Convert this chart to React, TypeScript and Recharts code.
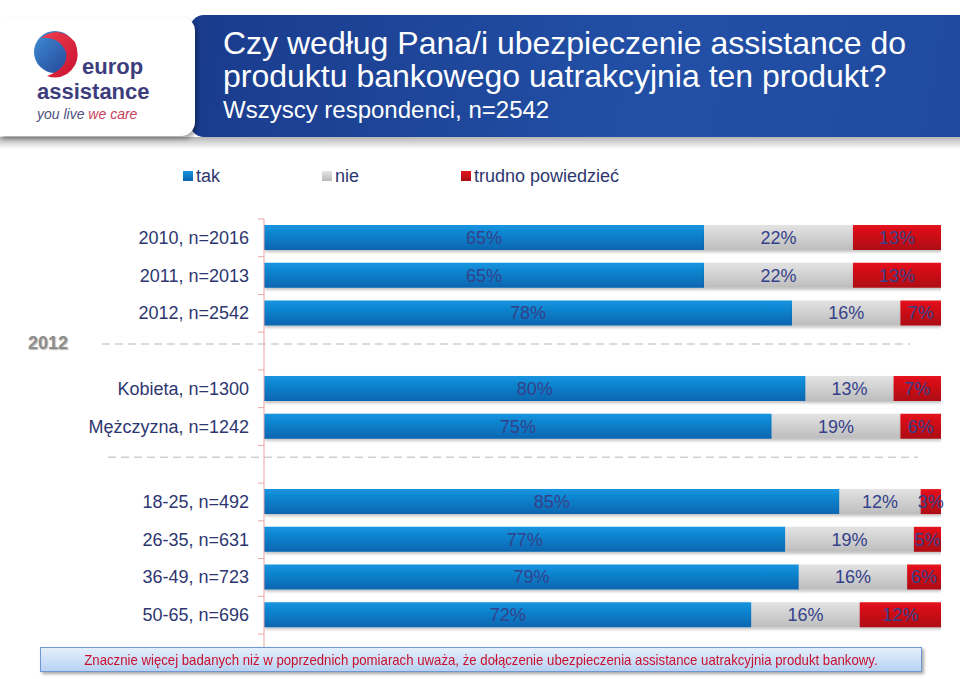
import React from 'react';
import { BarChart, Bar, XAxis, YAxis, LabelList, ReferenceLine } from 'recharts';

const FONT = '"Liberation Sans", Arial, Helvetica, sans-serif';
const NAVY = '#2d3670';

// null = empty spacer row between groups
const categories: (string | null)[] = [
  '2010, n=2016',
  '2011, n=2013',
  '2012, n=2542',
  null,
  'Kobieta, n=1300',
  'Mężczyzna, n=1242',
  null,
  '18-25, n=492',
  '26-35, n=631',
  '36-49, n=723',
  '50-65, n=696'
];
const tak = [65, 65, 78, null, 80, 75, null, 85, 77, 79, 72];
const nie = [22, 22, 16, null, 13, 19, null, 12, 19, 16, 16];
const trudno = [13, 13, 7, null, 7, 6, null, 3, 5, 6, 12];
const seriesNames = ['tak', 'nie', 'trudno powiedzieć'];

const data = categories.map((label, i) => ({
  id: `row${i}`,
  label: label ?? '',
  tak: tak[i],
  nie: nie[i],
  trudno: trudno[i]
}));
const labelById: Record<string, string> = {};
data.forEach(d => (labelById[d.id] = d.label));

const AXIS_X = 264;
const AXIS_COLOR = '#e9a5a5';
const lastId = data[data.length - 1].id;

const RowTick = (props: any) => {
  const { y, payload } = props;
  const half = payload.offset || 18.9;
  return (
    <g>
      <text x={AXIS_X - 15} y={y} dy={6} textAnchor="end" fill={NAVY} fontSize={18} fontFamily={FONT}>
        {labelById[payload.value]}
      </text>
      <line x1={AXIS_X - 6} x2={AXIS_X} y1={y - half} y2={y - half} stroke={AXIS_COLOR} />
      {payload.value === lastId && (
        <g>
          <line x1={AXIS_X - 6} x2={AXIS_X} y1={y + half} y2={y + half} stroke={AXIS_COLOR} />
          <line x1={AXIS_X} x2={AXIS_X} y1={y + half} y2={y + half + 14} stroke={AXIS_COLOR} />
        </g>
      )}
    </g>
  );
};

const separator = (from: number, to: number, tag?: string) => (p: any) => (
  <g>
    <line x1={from} x2={to} y1={p.y1 - 7} y2={p.y1 - 7} stroke="#cfcfcf" strokeWidth={1.5} strokeDasharray="8 5" />
    {tag && (
      <text x={28} y={p.y1 - 2} fill="#8d8d8d" fontSize={18} fontWeight="bold" fontFamily={FONT}
        style={{ textShadow: '1px 1px 1px #bbb' }}>
        {tag}
      </text>
    )}
  </g>
);

const pct = (v: any) => (v == null ? '' : `${v}%`);

const labelStyle = { fill: '#34418a', fontSize: 18, fontFamily: FONT };

const Logo = () => (
  <svg width={150} height={110} viewBox="0 0 150 110">
    <defs>
      <linearGradient id="swBlue" x1="0" y1="0" x2="1" y2="1">
        <stop offset="0%" stopColor="#3f8fd6" />
        <stop offset="100%" stopColor="#233f93" />
      </linearGradient>
      <linearGradient id="swRed" x1="0" y1="0" x2="1" y2="1">
        <stop offset="0%" stopColor="#f0404f" />
        <stop offset="100%" stopColor="#c8102e" />
      </linearGradient>
    </defs>
    <circle cx={22} cy={24} r={21} fill="url(#swBlue)" />
    <path d="M8 10 Q26 -4 42 14 Q50 34 34 46 Q24 52 14 48 Q36 40 33 24 Q26 8 8 10 Z" fill="url(#swRed)" />
    <text x={49} y={46} fontSize={22} fontWeight="bold" fill="#3c3d7c" fontFamily={FONT}>europ</text>
    <text x={4} y={71} fontSize={22} fontWeight="bold" fill="#3c3d7c" fontFamily={FONT}>assistance</text>
    <text x={4} y={91} fontSize={14} fontStyle="italic" fill="#4d4f80" fontFamily={FONT}>
      you live <tspan fill="#c9415a">we care</tspan>
    </text>
  </svg>
);

const legendColors = ['linear-gradient(#1a95e0, #0a63ad)', 'linear-gradient(#e6e6e6, #b8b8b8)', 'linear-gradient(#e3141d, #a90c14)'];
const legendX = [183, 322, 461];

export default function App() {
  return (
    <div style={{ position: 'absolute', left: 0, top: 0, width: 960, height: 679, background: '#fff', fontFamily: FONT, overflow: 'hidden' }}>
      <BarChart
        width={960}
        height={679}
        data={data}
        layout="vertical"
        margin={{ top: 219, right: 19, bottom: 45, left: 0 }}
        barSize={25}
        style={{ position: 'absolute', left: 0, top: 0 }}
      >
        <defs>
          <linearGradient id="gBlue" x1="0" y1="0" x2="0" y2="1">
            <stop offset="0%" stopColor="#1495e0" />
            <stop offset="100%" stopColor="#0865b0" />
          </linearGradient>
          <linearGradient id="gGray" x1="0" y1="0" x2="0" y2="1">
            <stop offset="0%" stopColor="#e3e3e3" />
            <stop offset="100%" stopColor="#bdbdbd" />
          </linearGradient>
          <linearGradient id="gRed" x1="0" y1="0" x2="0" y2="1">
            <stop offset="0%" stopColor="#e5121b" />
            <stop offset="100%" stopColor="#ad0c14" />
          </linearGradient>
          <filter id="barShadow" x="-5%" y="-20%" width="110%" height="160%">
            <feDropShadow dx="1" dy="2" stdDeviation="1.5" floodColor="#000" floodOpacity="0.25" />
          </filter>
        </defs>
        <XAxis type="number" domain={[0, 100]} allowDataOverflow hide />
        <YAxis
          type="category"
          dataKey="id"
          width={AXIS_X}
          axisLine={{ stroke: AXIS_COLOR }}
          tickLine={false}
          tick={<RowTick />}
          interval={0}
        />
        <ReferenceLine y="row3" stroke="none" ifOverflow="visible" shape={separator(102, 910, '2012')} />
        <ReferenceLine y="row6" stroke="none" ifOverflow="visible" shape={separator(108, 918)} />
        <Bar dataKey="tak" name={seriesNames[0]} stackId="s" fill="url(#gBlue)" filter="url(#barShadow)" isAnimationActive={false}>
          <LabelList dataKey="tak" position="center" formatter={pct} style={labelStyle} />
        </Bar>
        <Bar dataKey="nie" name={seriesNames[1]} stackId="s" fill="url(#gGray)" filter="url(#barShadow)" isAnimationActive={false}>
          <LabelList dataKey="nie" position="center" formatter={pct} style={labelStyle} />
        </Bar>
        <Bar dataKey="trudno" name={seriesNames[2]} stackId="s" fill="url(#gRed)" filter="url(#barShadow)" isAnimationActive={false}>
          <LabelList dataKey="trudno" position="center" formatter={pct} style={labelStyle} />
        </Bar>
      </BarChart>

      {/* header */}
      <div style={{ position: 'absolute', left: 0, top: 137, width: 960, height: 12, background: 'linear-gradient(#b5b5b5, #ffffff)' }} />
      <div style={{ position: 'absolute', left: 190, top: 15, width: 770, height: 122, borderRadius: '14px 0 0 14px', background: 'linear-gradient(100deg, #1a3b8c, #2250a6 60%, #1f4a9f)' }} />
      <div style={{ position: 'absolute', left: 0, top: 17, width: 195, height: 119, borderRadius: '0 14px 14px 0', background: '#fff', boxShadow: '2px 3px 4px rgba(0,0,0,0.35)' }}>
        <div style={{ position: 'absolute', left: 33, top: 11 }}>
          <Logo />
        </div>
      </div>
      <div style={{ position: 'absolute', left: 223, top: 27, color: '#fff', fontSize: 32, lineHeight: '33px', whiteSpace: 'nowrap' }}>
        Czy według Pana/i ubezpieczenie assistance do
        <br />
        produktu bankowego uatrakcyjnia ten produkt?
      </div>
      <div style={{ position: 'absolute', left: 223, top: 97, color: '#fff', fontSize: 24, lineHeight: '26px', whiteSpace: 'nowrap' }}>
        Wszyscy respondenci, n=2542
      </div>

      {/* legend */}
      {seriesNames.map((name, i) => (
        <div key={name} style={{ position: 'absolute', left: legendX[i], top: 165, height: 22, display: 'flex', alignItems: 'center', whiteSpace: 'nowrap' }}>
          <span style={{ display: 'inline-block', width: 10, height: 10, background: legendColors[i], marginRight: 3 }} />
          <span style={{ color: NAVY, fontSize: 18 }}>{name}</span>
        </div>
      ))}

      {/* footer note */}
      <div style={{
        position: 'absolute', left: 40, top: 647, width: 880, height: 23, border: '1px solid #7097d2',
        background: 'linear-gradient(#e4effc, #b8d2f2)', boxShadow: '2px 2px 3px rgba(0,0,0,0.35)',
        color: '#c8102e', lineHeight: '23px', textAlign: 'center', whiteSpace: 'nowrap'
      }}>
        <span style={{ display: 'inline-block', fontSize: 14.5, transform: 'scaleX(0.91)' }}>
          Znacznie więcej badanych niż w poprzednich pomiarach uważa, że dołączenie ubezpieczenia assistance uatrakcyjnia produkt bankowy.
        </span>
      </div>
    </div>
  );
}
